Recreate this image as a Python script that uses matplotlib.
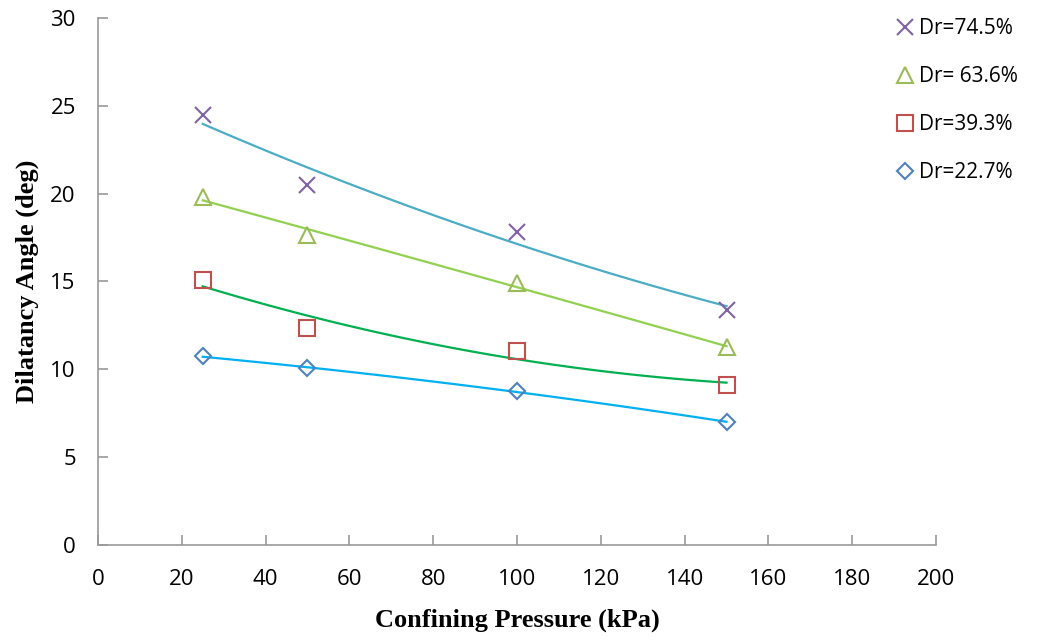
import matplotlib.pyplot as plt
import numpy as np

pressure = [25, 50, 100, 150]
dr_745 = [24.5, 20.5, 17.8, 13.4]
dr_636 = [19.8, 17.65, 14.9, 11.25]
dr_393 = [15.1, 12.35, 11.05, 9.1]
dr_227 = [10.75, 10.05, 8.75, 7.0]

series = [
    ('Dr=74.5%', dr_745, 'x', '#7F63A2', '#4BACC6'),
    ('Dr= 63.6%', dr_636, '^', '#9BBB59', '#92D050'),
    ('Dr=39.3%', dr_393, 's', '#C0504D', '#00B050'),
    ('Dr=22.7%', dr_227, 'D', '#4F81BD', '#00B0F0'),
]

fig = plt.figure(figsize=(10.39, 6.41), dpi=100)
ax = fig.add_axes([0.0943, 0.1498, 0.8066, 0.8221])

handles = []
x = np.array(pressure, dtype=float)
xs = np.linspace(x.min(), x.max(), 100)
for label, y, marker, mcolor, lcolor in series:
    # second-order trend line like the spreadsheet
    coef = np.polyfit(x, y, 2)
    ax.plot(xs, np.polyval(coef, xs), color=lcolor, lw=1.6, zorder=2)
    ms = 11 if marker != 'D' else 8.5
    h, = ax.plot(x, y, linestyle='none', marker=marker, markersize=ms,
                 markerfacecolor='none', markeredgecolor=mcolor,
                 markeredgewidth=1.5, zorder=3, label=label)
    handles.append(h)

ax.set_xlim(0, 200)
ax.set_ylim(0, 30)
ax.set_xticks(range(0, 201, 20))
ax.set_yticks(range(0, 31, 5))
for s in ['top', 'right']:
    ax.spines[s].set_visible(False)
for s in ['left', 'bottom']:
    ax.spines[s].set_color('#999999')
    ax.spines[s].set_linewidth(1.2)
ax.tick_params(direction='in', length=7, color='#999999', width=1.2,
               labelsize=16)
ax.tick_params(axis='x', pad=17)
ax.tick_params(axis='y', pad=16)
for lab in ax.get_xticklabels() + ax.get_yticklabels():
    lab.set_family('Open Sans')

ax.set_xlabel('Confining Pressure (kPa)', family='Liberation Serif',
              fontweight='bold', fontsize=19, labelpad=14)
ax.set_ylabel('Dilatancy Angle (deg)', family='Liberation Serif',
              fontweight='bold', fontsize=19, labelpad=8)

fig.legend(handles=handles, loc='upper left', bbox_to_anchor=(0.851, 0.985),
           frameon=False, prop={'family': 'Open Sans', 'size': 15},
           handletextpad=0.05, labelspacing=1.3, handlelength=1.2,
           borderaxespad=0)

fig.savefig('out.png', dpi=100)
